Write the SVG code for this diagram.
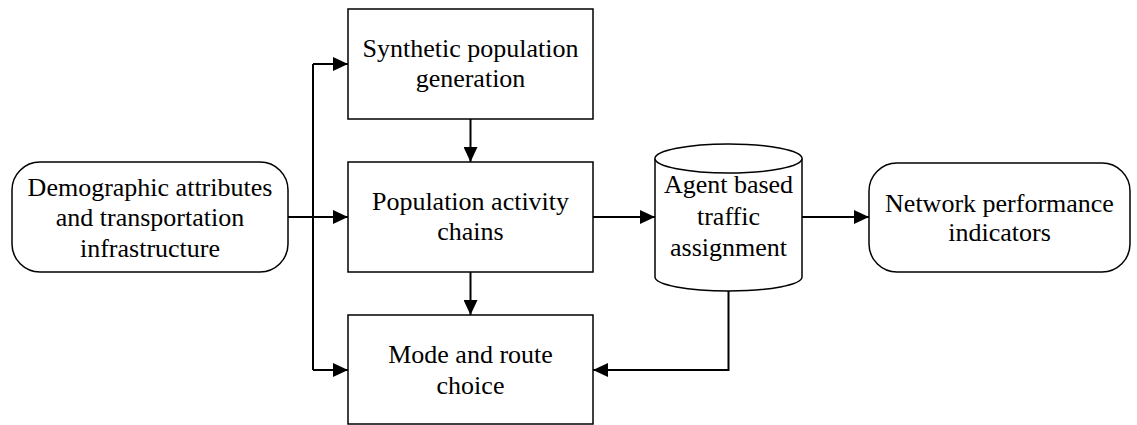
<svg xmlns="http://www.w3.org/2000/svg" width="1137" height="425" viewBox="0 0 1137 425">
  <defs>
    <marker id="arrow" viewBox="0 0 15 14" refX="15" refY="7" markerWidth="15" markerHeight="14" markerUnits="userSpaceOnUse" orient="auto">
      <path d="M0,0 L15,7 L0,14 Z" fill="#000"/>
    </marker>
  </defs>
  <style>
    .box { fill: #fff; stroke: #000; stroke-width: 1.5; }
    .lbl { font-family: "Liberation Serif", "Times New Roman", serif; font-size: 26px; fill: #000; text-anchor: middle; }
    .edge { fill: none; stroke: #000; stroke-width: 2; }
  </style>
  <rect width="1137" height="425" fill="#fff"/>

  <g id="connectors">
    <path class="edge" d="M313,64 V370"/>
    <path class="edge" d="M288,217 H348" marker-end="url(#arrow)"/>
    <path class="edge" d="M313,64 H348" marker-end="url(#arrow)"/>
    <path class="edge" d="M313,370 H348" marker-end="url(#arrow)"/>
    <path class="edge" d="M470.5,119 V162" marker-end="url(#arrow)"/>
    <path class="edge" d="M470.5,272 V315" marker-end="url(#arrow)"/>
    <path class="edge" d="M593,217 H655" marker-end="url(#arrow)"/>
    <path class="edge" d="M802,217 H869" marker-end="url(#arrow)"/>
    <path class="edge" d="M728.5,291 V370 H593" marker-end="url(#arrow)"/>
  </g>

  <g id="inputs">
    <rect class="box" x="12" y="162" width="276" height="110" rx="28" ry="28"/>
    <text class="lbl" x="150" y="196">Demographic attributes</text>
    <text class="lbl" x="150" y="226">and transportation</text>
    <text class="lbl" x="150" y="257">infrastructure</text>
  </g>

  <g id="synthetic-population">
    <rect class="box" x="348" y="9" width="245" height="110"/>
    <text class="lbl" x="470.5" y="57">Synthetic population</text>
    <text class="lbl" x="470.5" y="87">generation</text>
  </g>

  <g id="activity-chains">
    <rect class="box" x="348" y="162" width="245" height="110"/>
    <text class="lbl" x="470.5" y="210">Population activity</text>
    <text class="lbl" x="470.5" y="240">chains</text>
  </g>

  <g id="mode-route">
    <rect class="box" x="348" y="315" width="245" height="109"/>
    <text class="lbl" x="470.5" y="363">Mode and route</text>
    <text class="lbl" x="470.5" y="394">choice</text>
  </g>

  <g id="traffic-assignment">
    <path class="box" d="M655,158.5 V277 A73.5,14 0 0 0 802,277 V158.5 A73.5,14.5 0 0 0 655,158.5 Z"/>
    <path class="box" fill="none" d="M655,158.5 A73.5,14.5 0 0 0 802,158.5"/>
    <text class="lbl" x="728.5" y="193">Agent based</text>
    <text class="lbl" x="728.5" y="225">traffic</text>
    <text class="lbl" x="728.5" y="256">assignment</text>
  </g>

  <g id="performance">
    <rect class="box" x="869" y="163" width="261" height="109" rx="28" ry="28"/>
    <text class="lbl" x="999.5" y="212">Network performance</text>
    <text class="lbl" x="999.5" y="241">indicators</text>
  </g>
</svg>
